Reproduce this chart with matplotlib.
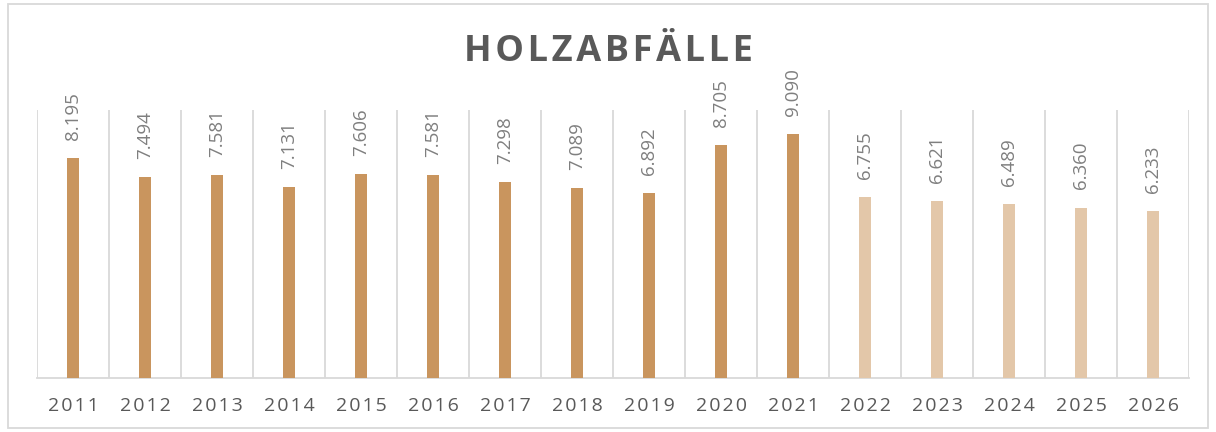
import matplotlib.pyplot as plt

years = ['2011', '2012', '2013', '2014', '2015', '2016', '2017', '2018',
         '2019', '2020', '2021', '2022', '2023', '2024', '2025', '2026']
values = [8.195, 7.494, 7.581, 7.131, 7.606, 7.581, 7.298, 7.089,
          6.892, 8.705, 9.090, 6.755, 6.621, 6.489, 6.360, 6.233]
labels = ['8.195', '7.494', '7.581', '7.131', '7.606', '7.581', '7.298', '7.089',
          '6.892', '8.705', '9.090', '6.755', '6.621', '6.489', '6.360', '6.233']
forecast = [False] * 11 + [True] * 5

plt.rcParams['font.family'] = ['Open Sans', 'DejaVu Sans']

def spaced(s, sep='\u200a'):
    return sep.join(s)

fig = plt.figure(figsize=(12.16, 4.32), dpi=100)
ax = fig.add_axes([37 / 1216, 54 / 432, 1152 / 1216, 268 / 432])

x = list(range(len(years)))
colors = ['#E3C7A9' if f else '#C9955E' for f in forecast]
ax.bar(x, values, width=0.18, color=colors, zorder=3)

for xi, v, lab in zip(x, values, labels):
    ax.annotate(lab, (xi, v), xytext=(0, 13), textcoords='offset points',
                rotation=90, ha='center', va='bottom', fontsize=13.5,
                color='#7F7F7F')

ax.set_xlim(-0.5, len(years) - 0.5)
ax.set_ylim(0, 10)
for b in [i - 0.5 for i in range(len(years) + 1)]:
    ax.axvline(b, color='#D9D9D9', lw=1.3, zorder=1)

for s in ['top', 'right', 'left']:
    ax.spines[s].set_visible(False)
ax.spines['bottom'].set_color('#D9D9D9')
ax.spines['bottom'].set_linewidth(1.3)
ax.set_yticks([])
ax.set_xticks(x)
ax.set_xticklabels([spaced(y, '\u200a') for y in years], fontsize=14, color='#595959')
ax.tick_params(axis='x', length=0, pad=14)

fig.text(0.5, 0.88, spaced('HOLZABFÄLLE', '\u200a'), ha='center', va='center',
         fontsize=26, fontweight='bold', color='#595959')

border = plt.Rectangle((8 / 1216, 4 / 432), 1200 / 1216, 424 / 432, transform=fig.transFigure,
                       fill=False, edgecolor='#D9D9D9', lw=1.3)
fig.patches.append(border)

fig.savefig('out.png', dpi=100)
